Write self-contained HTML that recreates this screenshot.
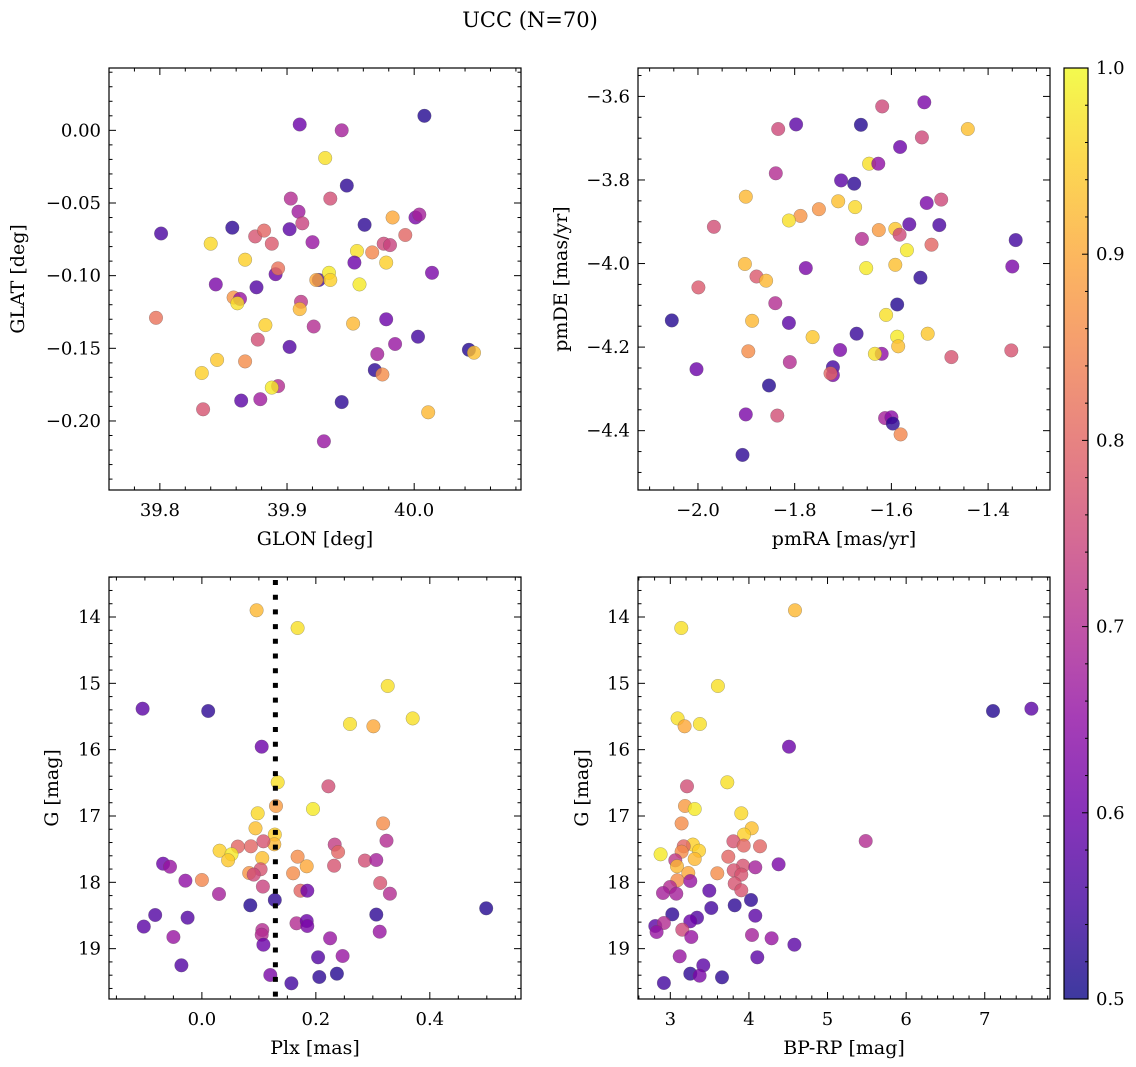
<!DOCTYPE html>
<html><head><meta charset="utf-8"><title>UCC (N=70)</title>
<style>
html,body{margin:0;padding:0;background:#fff;}
svg{display:block;font-family:"DejaVu Serif","Liberation Serif",serif;}
</style></head>
<body>
<svg id="fig" width="1136" height="1067" viewBox="0 0 1136 1067" xmlns="http://www.w3.org/2000/svg">
<defs>
<linearGradient id="plasmaGrad" x1="0" y1="1" x2="0" y2="0"></linearGradient>
</defs>
<text x="530" y="27" font-size="21" text-anchor="middle">UCC (N=70)</text>
</svg>
<script>
// ---------- Panel 1: GLON / GLAT ----------
const glon = [39.910,39.943,40.008,39.930,39.947,39.903,39.934,39.909,39.912,39.902,39.857,39.801,39.840,39.875,39.882,39.888,39.920,39.961,39.983,40.001,40.004,39.993,39.976,39.981,39.955,39.967,39.953,39.978,40.014,39.867,39.891,39.893,39.844,39.876,39.925,39.923,39.933,39.934,39.957,39.858,39.863,39.861,39.911,39.910,39.797,39.883,39.921,39.952,39.978,39.877,39.902,40.003,39.985,40.043,40.047,39.971,39.845,39.867,39.833,39.969,39.975,39.893,39.888,39.864,39.879,39.943,39.834,40.011,39.929];
const glat = [0.004,-0.000,0.010,-0.019,-0.038,-0.047,-0.047,-0.056,-0.064,-0.068,-0.067,-0.071,-0.078,-0.073,-0.069,-0.078,-0.077,-0.065,-0.060,-0.060,-0.058,-0.072,-0.078,-0.079,-0.083,-0.084,-0.091,-0.091,-0.098,-0.089,-0.099,-0.095,-0.106,-0.108,-0.103,-0.103,-0.098,-0.103,-0.106,-0.115,-0.116,-0.119,-0.118,-0.123,-0.129,-0.134,-0.135,-0.133,-0.130,-0.144,-0.149,-0.142,-0.147,-0.151,-0.153,-0.154,-0.158,-0.159,-0.167,-0.165,-0.168,-0.176,-0.177,-0.186,-0.185,-0.187,-0.192,-0.194,-0.214];
const probA = [.60,.68,.52,.97,.53,.70,.76,.67,.74,.58,.53,.56,.96,.77,.80,.78,.66,.53,.90,.62,.68,.80,.75,.74,.97,.85,.60,.95,.62,.95,.60,.82,.62,.57,.55,.90,.98,.95,.98,.87,.66,.97,.72,.92,.82,.95,.70,.92,.60,.76,.57,.55,.66,.52,.93,.68,.94,.86,.95,.53,.86,.70,.98,.58,.67,.53,.77,.92,.66];

// ---------- Panel 2: pmRA / pmDE ----------
const pmra = [-1.532,-1.619,-1.834,-1.797,-1.663,-1.442,-1.537,-1.582,-1.646,-1.627,-1.839,-1.704,-1.677,-1.901,-1.710,-1.675,-1.750,-1.788,-1.812,-1.967,-1.527,-1.497,-1.563,-1.501,-1.626,-1.592,-1.583,-1.661,-1.517,-1.568,-1.343,-1.903,-1.652,-1.592,-1.777,-1.879,-1.859,-1.350,-1.540,-1.999,-1.840,-1.588,-1.611,-2.054,-1.888,-1.812,-1.672,-1.763,-1.588,-1.525,-1.586,-1.706,-1.896,-1.620,-1.634,-1.476,-1.352,-2.003,-1.810,-1.721,-1.721,-1.726,-1.853,-1.901,-1.836,-1.613,-1.600,-1.597,-1.581,-1.908];
const pmde = [-3.614,-3.624,-3.678,-3.667,-3.668,-3.678,-3.698,-3.721,-3.761,-3.761,-3.784,-3.801,-3.809,-3.840,-3.851,-3.865,-3.870,-3.886,-3.897,-3.912,-3.855,-3.847,-3.906,-3.908,-3.920,-3.917,-3.931,-3.941,-3.955,-3.968,-3.944,-4.001,-4.011,-4.003,-4.011,-4.031,-4.041,-4.007,-4.034,-4.057,-4.095,-4.098,-4.123,-4.136,-4.137,-4.142,-4.168,-4.176,-4.175,-4.168,-4.198,-4.207,-4.210,-4.216,-4.216,-4.224,-4.208,-4.253,-4.236,-4.248,-4.267,-4.263,-4.292,-4.361,-4.364,-4.370,-4.368,-4.383,-4.409,-4.458];
const probB = [.62,.75,.75,.58,.52,.93,.75,.60,.97,.65,.70,.58,.53,.92,.93,.96,.87,.87,.97,.76,.62,.75,.58,.56,.88,.94,.75,.70,.80,.98,.55,.92,.98,.93,.62,.78,.92,.62,.53,.78,.70,.52,.97,.52,.92,.58,.54,.94,.98,.94,.93,.62,.86,.65,.97,.77,.77,.60,.70,.55,.62,.80,.52,.62,.76,.68,.64,.53,.85,.53];

// ---------- Panel 3: Plx / G ----------
const plx = [0.096,0.168,0.326,-0.104,0.011,0.370,0.260,0.301,0.105,0.133,0.222,0.130,0.195,0.098,0.318,0.094,0.128,0.127,0.108,0.324,0.063,0.086,0.031,0.052,0.046,0.168,0.233,0.239,0.106,0.184,0.286,0.306,-0.068,-0.056,0.232,0.103,0.083,0.091,0.160,-0.029,0.000,0.107,0.313,0.330,0.030,0.173,0.185,0.128,0.085,0.499,0.306,-0.082,-0.025,-0.102,0.166,0.184,0.185,0.106,0.105,0.312,-0.050,0.108,0.225,0.204,0.247,-0.036,0.120,0.157,0.206,0.237];
const gmagC = [13.899,14.166,15.040,15.382,15.417,15.528,15.613,15.648,15.955,16.492,16.553,16.849,16.894,16.960,17.111,17.186,17.281,17.427,17.382,17.372,17.462,17.457,17.523,17.578,17.668,17.613,17.432,17.543,17.633,17.759,17.673,17.663,17.719,17.764,17.749,17.804,17.859,17.884,17.864,17.975,17.965,18.065,18.010,18.171,18.176,18.126,18.126,18.266,18.347,18.392,18.487,18.492,18.533,18.668,18.618,18.583,18.658,18.719,18.789,18.744,18.824,18.940,18.844,19.131,19.111,19.251,19.397,19.523,19.427,19.377];
const probC = [.92,.97,.97,.58,.53,.97,.97,.90,.60,.97,.76,.88,.98,.96,.86,.93,.95,.92,.77,.70,.80,.80,.95,.98,.94,.86,.73,.80,.93,.90,.76,.68,.60,.66,.77,.77,.87,.75,.86,.65,.85,.74,.77,.70,.68,.80,.60,.53,.52,.52,.53,.57,.57,.58,.70,.60,.62,.70,.70,.66,.66,.60,.66,.57,.66,.57,.62,.55,.53,.52];
const plxLine = [0.129];

// ---------- Panel 4: BP-RP / G ----------
const bprp = [4.586,3.140,3.606,7.105,7.593,3.093,3.377,3.182,4.510,3.212,3.725,3.187,3.310,3.903,3.144,4.035,3.937,5.485,3.802,3.933,4.141,3.288,3.170,3.365,3.144,2.877,3.310,3.064,3.738,3.085,3.925,4.081,4.378,3.229,3.598,3.806,3.903,3.089,3.254,3.819,3.903,2.996,2.907,3.076,3.496,4.026,3.819,3.522,3.025,4.081,3.339,3.254,2.809,2.919,2.826,3.153,3.267,4.039,4.289,4.578,3.119,4.107,3.420,3.254,3.373,3.657,2.919];
const gmagD = [13.899,14.166,15.040,15.417,15.382,15.528,15.613,15.648,15.955,16.553,16.492,16.849,16.894,16.960,17.111,17.186,17.281,17.377,17.382,17.447,17.457,17.432,17.457,17.523,17.538,17.578,17.648,17.668,17.613,17.759,17.749,17.774,17.729,17.859,17.864,17.819,17.884,17.970,17.980,18.020,18.121,18.070,18.161,18.171,18.126,18.266,18.347,18.387,18.482,18.503,18.533,18.588,18.658,18.613,18.749,18.714,18.824,18.794,18.844,18.940,19.116,19.131,19.251,19.377,19.407,19.432,19.518];
const probD = [.92,.97,.97,.52,.58,.97,.97,.90,.60,.76,.97,.88,.98,.96,.86,.93,.95,.70,.77,.80,.80,.95,.80,.95,.86,.98,.92,.72,.80,.92,.77,.68,.62,.90,.86,.77,.77,.86,.66,.77,.77,.70,.68,.68,.58,.53,.53,.55,.53,.58,.57,.60,.58,.70,.66,.75,.66,.68,.66,.58,.66,.58,.58,.53,.62,.53,.55];

// ---------- Tick labels ----------
const ticks1x = [39.8,39.9,40.0], ticks1xLab = ["39.8","39.9","40.0"];
const ticks1y = [0,-0.05,-0.10,-0.15,-0.20], ticks1yLab = ["0.00","−0.05","−0.10","−0.15","−0.20"];
const ticks2x = [-2.0,-1.8,-1.6,-1.4], ticks2xLab = ["−2.0","−1.8","−1.6","−1.4"];
const ticks2y = [-3.6,-3.8,-4.0,-4.2,-4.4], ticks2yLab = ["−3.6","−3.8","−4.0","−4.2","−4.4"];
const ticks3x = [0.0,0.2,0.4], ticks3xLab = ["0.0","0.2","0.4"];
const ticksGy = [14,15,16,17,18,19], ticksGyLab = ["14","15","16","17","18","19"];
const ticks4x = [3,4,5,6,7], ticks4xLab = ["3","4","5","6","7"];
const cbTicks = [0.5,0.6,0.7,0.8,0.9,1.0], cbTickLab = ["0.5","0.6","0.7","0.8","0.9","1.0"];
const cbRange = [0.5,1.0];

const NS = "http://www.w3.org/2000/svg";
const svg = document.getElementById('fig');
const TICKFS = 18, TITLEFS = 19;
function mk(tag, attrs, parent){
  const e = document.createElementNS(NS, tag);
  for (const k in attrs) e.setAttribute(k, attrs[k]);
  (parent||svg).appendChild(e);
  return e;
}
const stops = ["#0d0887","#41049d","#6a00a8","#8f0da4","#b12a90","#cc4778","#e16462","#f2844b","#fca636","#fcce25","#f0f921"];
function hex(c){return [parseInt(c.substr(1,2),16),parseInt(c.substr(3,2),16),parseInt(c.substr(5,2),16)];}
function plasma(t){
  t=Math.max(0,Math.min(1,t)); const f=t*10; const i=Math.min(9,Math.floor(f)); const r=f-i;
  const a=hex(stops[i]), b=hex(stops[i+1]);
  return "rgb("+a.map((v,k)=>Math.round(v+(b[k]-v)*r)).join(",")+")";
}
function pcol(p){return plasma((p-cbRange[0])/(cbRange[1]-cbRange[0]));}

const grad = document.getElementById('plasmaGrad');
stops.forEach((c,i)=>{mk('stop',{offset:(i*10)+'%','stop-color':c,'stop-opacity':0.8},grad);});

function panel(cfg){
  const g = mk('g',{});
  
  
  const X = v => cfg.px0 + (v-cfg.xmin)/(cfg.xmax-cfg.xmin)*(cfg.px1-cfg.px0);
  const Y = v => cfg.py1 - (v-cfg.ymin)/(cfg.ymax-cfg.ymin)*(cfg.py1-cfg.py0);
  const Yi = cfg.invert ? (v => cfg.py0 + (v-cfg.ymin)/(cfg.ymax-cfg.ymin)*(cfg.py1-cfg.py0)) : Y;
  const pg = mk('g',{},g);
  
  
  for (let i=0;i<cfg.xs.length && i<cfg.ys.length;i++){
    const c = mk('circle',{cx:X(cfg.xs[i]).toFixed(1),cy:Yi(cfg.ys[i]).toFixed(1),r:6.8,fill:pcol(cfg.ps[i]),'fill-opacity':0.8,stroke:'#555','stroke-opacity':0.5,'stroke-width':0.5},pg);
    
    
  }
  if (cfg.vline){
    cfg.vline.forEach(v=>{
      const l = mk('line',{x1:X(v),x2:X(v),y1:cfg.py0+3,y2:cfg.py1,stroke:'#000','stroke-width':5,'stroke-dasharray':'5 9.7'},g);
      
      
    });
  }
  const fr = mk('rect',{x:cfg.px0,y:cfg.py0,width:cfg.px1-cfg.px0,height:cfg.py1-cfg.py0,fill:'none',stroke:'#000','stroke-width':1.2},g);
  
  
  const tk = mk('g',{stroke:'#000','stroke-width':1},g);
  
  
  const start = Math.ceil(cfg.xmin/cfg.xminor-1e-6);
  for (let k=start; k*cfg.xminor<=cfg.xmax+1e-9; k++){
    const v=k*cfg.xminor, x=X(v);
    const major = cfg.xt.some(t=>Math.abs(t-v)<1e-6);
    const L = major?7:3.5;
    mk('line',{x1:x,x2:x,y1:cfg.py1,y2:cfg.py1-L},tk);
    mk('line',{x1:x,x2:x,y1:cfg.py0,y2:cfg.py0+L},tk);
  }
  const ys = Math.ceil(cfg.ymin/cfg.yminor-1e-6);
  for (let k=ys; k*cfg.yminor<=cfg.ymax+1e-9; k++){
    const v=k*cfg.yminor, y=Yi(v);
    const major = cfg.yt.some(t=>Math.abs(t-v)<1e-6);
    const L = major?7:3.5;
    mk('line',{x1:cfg.px0,x2:cfg.px0+L,y1:y,y2:y},tk);
    mk('line',{x1:cfg.px1,x2:cfg.px1-L,y1:y,y2:y},tk);
  }
  cfg.xt.forEach((v,i)=>{
    const t = mk('text',{x:X(v),y:cfg.py1+26,'font-size':TICKFS,'text-anchor':'middle'},g);
    t.textContent = cfg.xl[i];
    
    
  });
  cfg.yt.forEach((v,i)=>{
    const t = mk('text',{x:cfg.px0-8,y:Yi(v)+6,'font-size':TICKFS,'text-anchor':'end'},g);
    t.textContent = cfg.yl[i];
    
    
  });
  const xt = mk('text',{x:(cfg.px0+cfg.px1)/2,y:cfg.py1+55,'font-size':TITLEFS,'text-anchor':'middle'},g);
  xt.textContent = cfg.xtitle;
  
  
  const cy=(cfg.py0+cfg.py1)/2;
  const yt = mk('text',{x:cfg.ytx,y:cy,'font-size':TITLEFS,'text-anchor':'middle',transform:'rotate(-90 '+cfg.ytx+' '+cy+')'},g);
  yt.textContent = cfg.ytitle;
  
  
}

panel({name:'glon-glat-panel',px0:109,px1:521,py0:68,py1:490,xmin:39.760,xmax:40.084,ymin:-0.2475,ymax:0.0429,
  xs:glon,ys:glat,ps:probA,xt:ticks1x,xl:ticks1xLab,yt:ticks1y,yl:ticks1yLab,xminor:0.02,yminor:0.01,
  xtitle:'GLON [deg]',ytitle:'GLAT [deg]',ytx:24});
panel({name:'pm-panel',px0:638,px1:1050,py0:68,py1:490,xmin:-2.124,xmax:-1.272,ymin:-4.542,ymax:-3.532,
  xs:pmra,ys:pmde,ps:probB,xt:ticks2x,xl:ticks2xLab,yt:ticks2y,yl:ticks2yLab,xminor:0.05,yminor:0.05,
  xtitle:'pmRA [mas/yr]',ytitle:'pmDE [mas/yr]',ytx:567});
panel({name:'plx-g-panel',px0:109,px1:521,py0:577,py1:999,xmin:-0.163,xmax:0.560,ymin:13.397,ymax:19.759,invert:true,
  xs:plx,ys:gmagC,ps:probC,xt:ticks3x,xl:ticks3xLab,yt:ticksGy,yl:ticksGyLab,xminor:0.05,yminor:0.2,vline:plxLine,
  xtitle:'Plx [mas]',ytitle:'G [mag]',ytx:58});
panel({name:'cmd-panel',px0:638,px1:1050,py0:577,py1:999,xmin:2.589,xmax:7.830,ymin:13.397,ymax:19.759,invert:true,
  xs:bprp,ys:gmagD,ps:probD,xt:ticks4x,xl:ticks4xLab,yt:ticksGy,yl:ticksGyLab,xminor:0.2,yminor:0.2,
  xtitle:'BP-RP [mag]',ytitle:'G [mag]',ytx:588});

(function(){
  const g = mk('g',{});
  
  
  const x0=1064,x1=1088,y0=68,y1=999;
  const CY = v => y1 - (v-cbRange[0])/(cbRange[1]-cbRange[0])*(y1-y0);
  const r = mk('rect',{x:x0,y:y0,width:x1-x0,height:y1-y0,fill:'url(#plasmaGrad)',stroke:'#000','stroke-width':1.2},g);
  
  
  for (let k=25;k<=50;k++){
    const v=k*0.02, y=CY(v);
    const major = cbTicks.some(t=>Math.abs(t-v)<1e-6);
    mk('line',{x1:x1,x2:x1-(major?6:3),y1:y,y2:y,stroke:'#000','stroke-width':1},g);
  }
  cbTicks.forEach((v,i)=>{
    const t = mk('text',{x:x1+8,y:CY(v)+6,'font-size':TICKFS},g);
    t.textContent = cbTickLab[i];
    
    
  });
})();
</script>
</body></html>
